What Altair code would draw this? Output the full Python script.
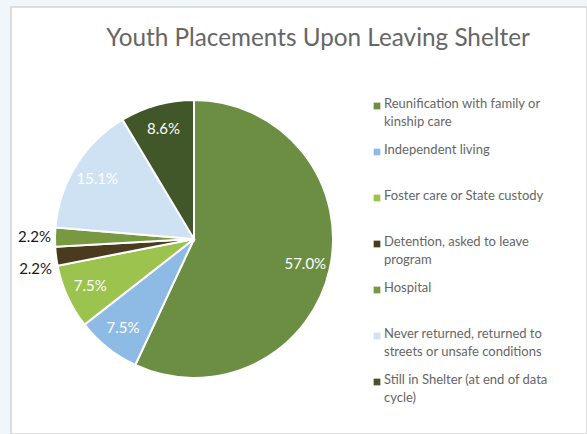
import altair as alt
import pandas as pd

categories = [
    "Reunification with family or kinship care",
    "Independent living",
    "Foster care or State custody",
    "Detention, asked to leave program",
    "Hospital",
    "Never returned, returned to streets or unsafe conditions",
    "Still in Shelter (at end of data cycle)",
]
legend_labels = [
    "Reunification with family or\nkinship care",
    "Independent living",
    "Foster care or State custody",
    "Detention, asked to leave\nprogram",
    "Hospital",
    "Never returned, returned to\nstreets or unsafe conditions",
    "Still in Shelter (at end of data\ncycle)",
]
values = [57.0, 7.5, 7.5, 2.2, 2.2, 15.1, 8.6]
colors = ["#6B8E43", "#8EBBE6", "#9BC34D", "#4A3A1E", "#77993F", "#CFE2F3", "#415629"]

df = pd.DataFrame({
    "cat": categories,
    "legend": legend_labels,
    "value": values,
    "idx": list(range(len(categories))),
})
df["pct"] = df["value"].map(lambda v: f"{v:.1f}%")

FONT = "Lato"
CX, CY, R = 183, 232, 139

color = alt.Color("cat:N", scale=alt.Scale(domain=categories, range=colors), legend=None)
theta = alt.Theta("value:Q", stack=True)
order = alt.Order("idx:Q")
center = dict(x=alt.value(CX), y=alt.value(CY))

base = alt.Chart(df)

pie = base.mark_arc(outerRadius=R, stroke="white", strokeWidth=2).encode(
    theta=theta, color=color, order=order, **center
)

inside = base.mark_text(radius=114, fontSize=15, font=FONT, color="white").encode(
    theta=theta, order=order, text="pct:N",
    opacity=alt.condition(alt.datum.value > 5, alt.value(1), alt.value(0)),
    **center
)

out_hosp = base.mark_text(radius=143, fontSize=15, font=FONT, color="#1A1A1A",
                          align="right", baseline="middle").encode(
    theta=theta, order=order, text="pct:N",
    opacity=alt.condition(alt.datum.cat == "Hospital", alt.value(1), alt.value(0)),
    **center
)
out_det = base.mark_text(radius=143, fontSize=15, font=FONT, color="#1A1A1A",
                         align="right", baseline="middle", dy=12).encode(
    theta=theta, order=order, text="pct:N",
    opacity=alt.condition(alt.datum.cat == "Detention, asked to leave program",
                          alt.value(1), alt.value(0)),
    **center
)

leg_y = alt.Y("cat:N", sort=categories,
              scale=alt.Scale(type="point", range=[99, 375], padding=0), axis=None)
leg_sq = base.mark_point(shape="square", filled=True, size=45, opacity=1).encode(
    x=alt.value(366), y=leg_y, color=color
)
leg_tx = base.mark_text(align="left", baseline="top", dy=-8, fontSize=13, lineHeight=18,
                        lineBreak="\n", color="#666666", font=FONT).encode(
    x=alt.value(373), y=leg_y, text="legend:N"
)

chart = alt.layer(pie, inside, out_hosp, out_det, leg_sq, leg_tx).properties(
    width=576,
    height=427,
    padding={"left": 11, "top": 7, "right": 0, "bottom": 0},
    background="#F1F6FB",
    title=alt.TitleParams(
        "Youth Placements Upon Leaving Shelter",
        fontSize=24.3, font=FONT, fontWeight="normal", color="#666666",
        anchor="middle", dx=19, offset=-63, baseline="alphabetic",
    ),
).configure_view(fill="white", stroke="#D4D4D4", strokeWidth=1.5)

chart.save("out.html", embed_options={"renderer": "svg", "actions": False})
